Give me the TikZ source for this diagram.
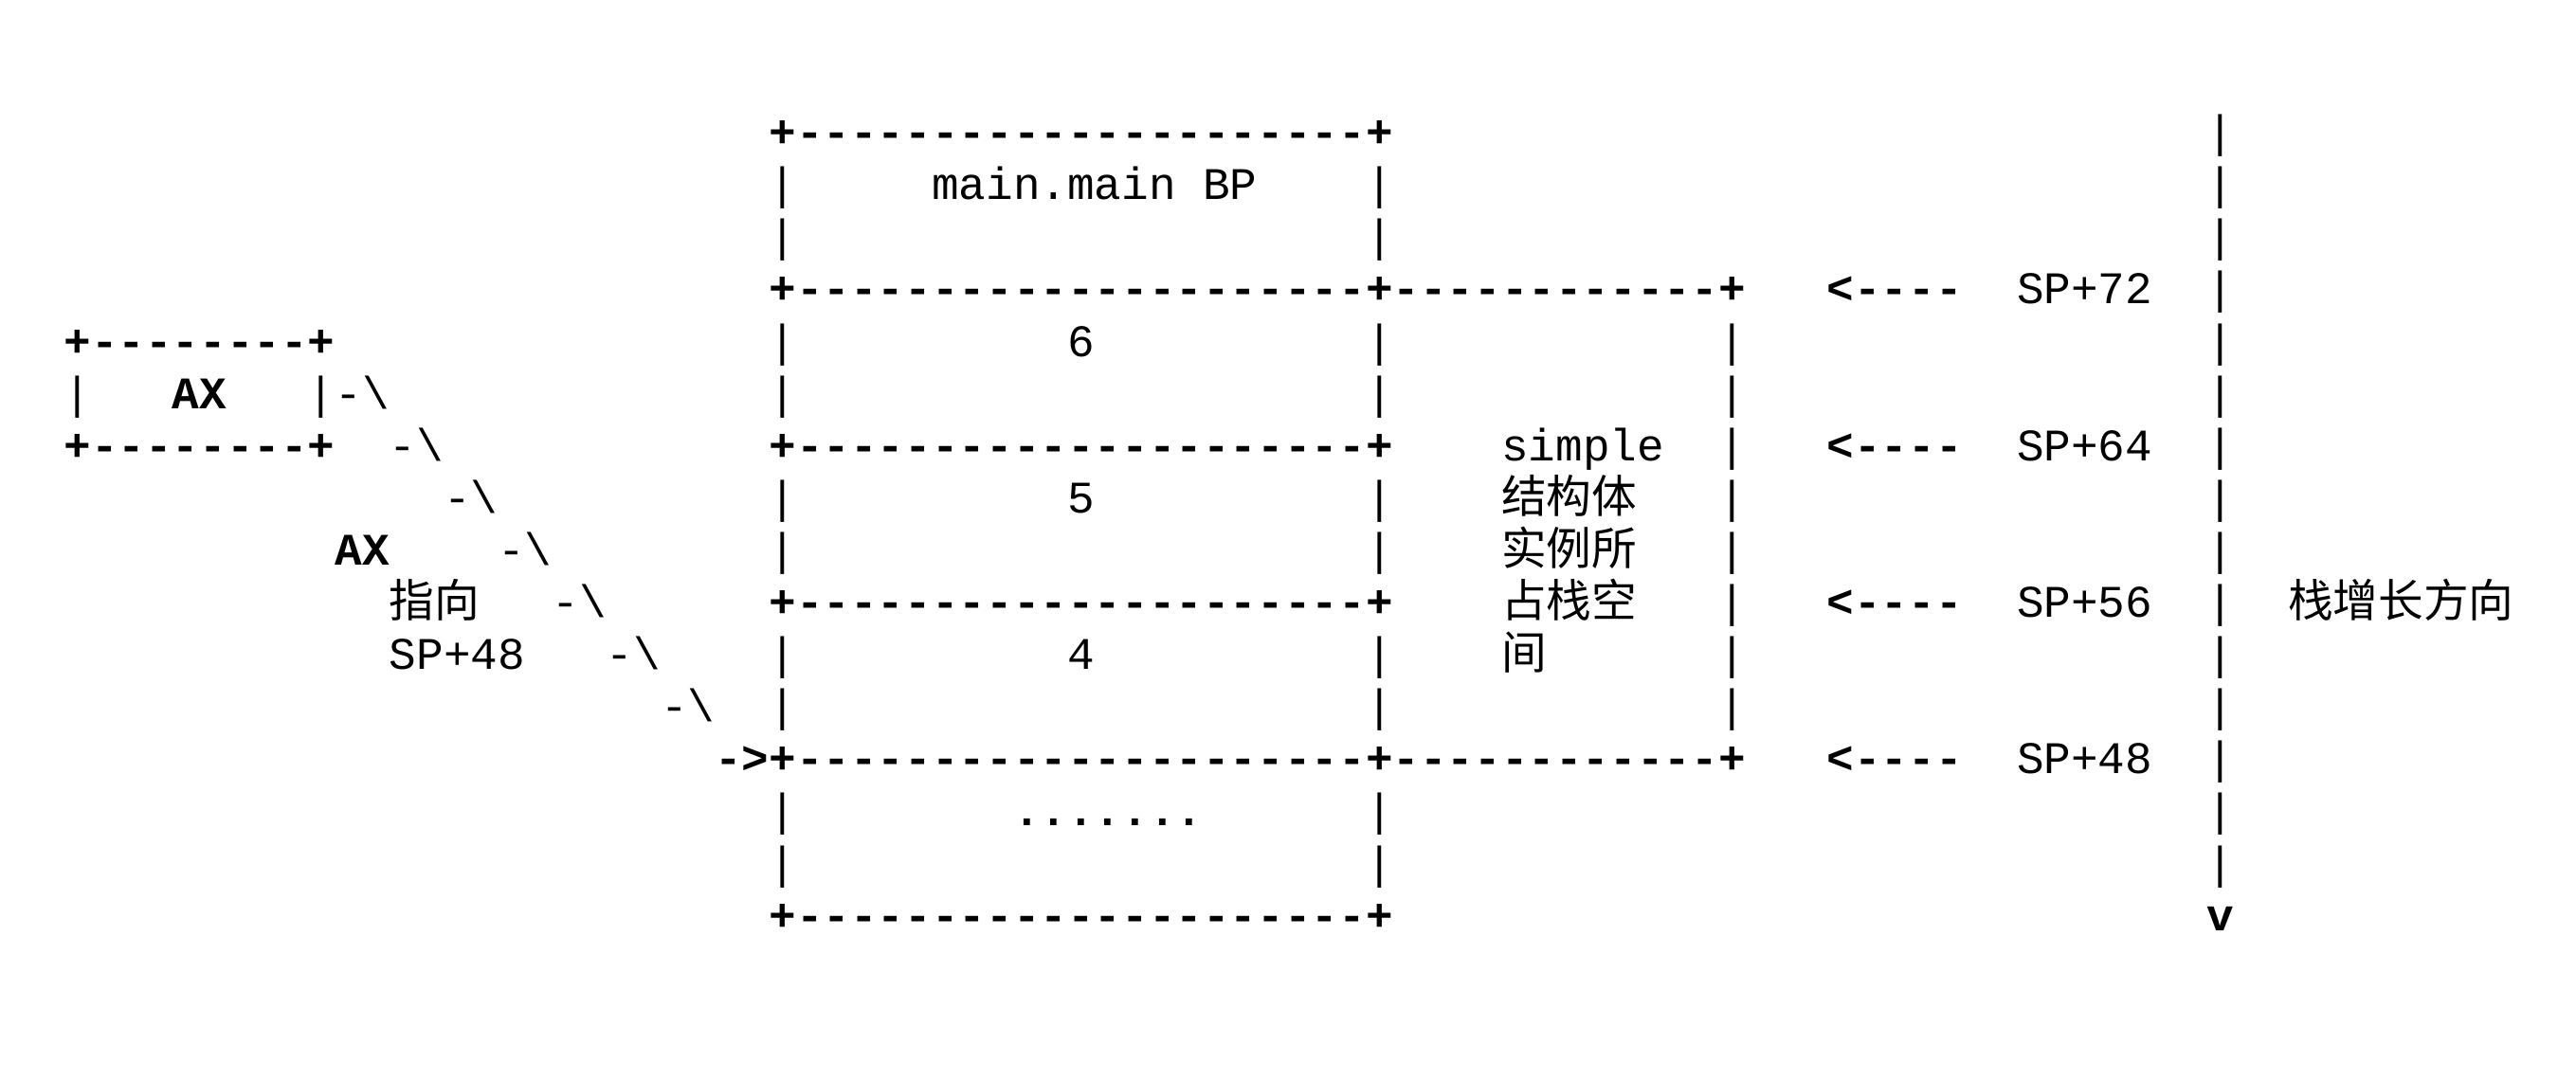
\documentclass[tikz,border=0pt]{standalone}
\usepackage{fontspec}
\setmonofont{Liberation Mono}
\newfontfamily\cjkf{Noto Sans CJK SC}
\newcommand\bs{\textbackslash}
\begin{document}
\begin{tikzpicture}[
  every node/.style={inner sep=0pt, outer sep=0pt, anchor=base west},
  txt/.style={font=\fontsize{13.57pt}{16pt}\ttfamily},
  btxt/.style={font=\fontsize{13.57pt}{16pt}\ttfamily\bfseries},
  brd/.style={font=\fontsize{13.57pt}{16pt}\ttfamily\bfseries},
  cjk/.style={font=\fontsize{13.57pt}{16pt}\cjkf},
]
\useasboundingbox[fill=white] (0,0) rectangle (27.18cm,-11.4cm);
\begin{scope}[x=0.2862cm, y=-0.551cm, shift={(0.674cm,-1.556cm)}]
% row 0
\node[brd] (r0box) at (26,0) {+---------------------+};
\node[txt] (r0bar) at (79,0) {|};
% row 1
\node[txt] (r1l) at (26,1) {|};
\node[txt] (bp) at (32,1) {main.main BP};
\node[txt] (r1r) at (48,1) {|};
\node[txt] (r1bar) at (79,1) {|};
% row 2
\node[txt] (r2l) at (26,2) {|};
\node[txt] (r2r) at (48,2) {|};
\node[txt] (r2bar) at (79,2) {|};
% row 3
\node[brd] (r3box) at (26,3) {+---------------------+------------+};
\node[btxt] (a72) at (65,3) {<----};
\node[txt] (sp72) at (72,3) {SP+72};
\node[txt] (r3bar) at (79,3) {|};
% row 4
\node[brd] (axtop) at (0,4) {+--------+};
\node[txt] (r4l) at (26,4) {|};
\node[txt] (v6) at (37,4) {6};
\node[txt] (r4r) at (48,4) {|};
\node[txt] (r4s) at (61,4) {|};
\node[txt] (r4bar) at (79,4) {|};
% row 5
\node[txt] (axl) at (0,5) {|};
\node[btxt] (ax) at (4,5) {AX};
\node[txt] (axr) at (9,5) {|};
\node[txt] (d5) at (10,5) {-\bs};
\node[txt] (r5l) at (26,5) {|};
\node[txt] (r5r) at (48,5) {|};
\node[txt] (r5s) at (61,5) {|};
\node[txt] (r5bar) at (79,5) {|};
% row 6
\node[brd] (axbot) at (0,6) {+--------+};
\node[txt] (d6) at (12,6) {-\bs};
\node[brd] (r6box) at (26,6) {+---------------------+};
\node[txt] (simple) at (53,6) {simple};
\node[txt] (r6s) at (61,6) {|};
\node[btxt] (a64) at (65,6) {<----};
\node[txt] (sp64) at (72,6) {SP+64};
\node[txt] (r6bar) at (79,6) {|};
% row 7
\node[txt] (d7) at (14,7) {-\bs};
\node[txt] (r7l) at (26,7) {|};
\node[txt] (v5) at (37,7) {5};
\node[txt] (r7r) at (48,7) {|};
\node[cjk] (c1) at (53,7) {结构体};
\node[txt] (r7s) at (61,7) {|};
\node[txt] (r7bar) at (79,7) {|};
% row 8
\node[btxt] (axlbl) at (10,8) {AX};
\node[txt] (d8) at (16,8) {-\bs};
\node[txt] (r8l) at (26,8) {|};
\node[txt] (r8r) at (48,8) {|};
\node[cjk] (c2) at (53,8) {实例所};
\node[txt] (r8s) at (61,8) {|};
\node[txt] (r8bar) at (79,8) {|};
% row 9
\node[cjk] (zx) at (12,9) {指向};
\node[txt] (d9) at (18,9) {-\bs};
\node[brd] (r9box) at (26,9) {+---------------------+};
\node[cjk] (c3) at (53,9) {占栈空};
\node[txt] (r9s) at (61,9) {|};
\node[btxt] (a56) at (65,9) {<----};
\node[txt] (sp56) at (72,9) {SP+56};
\node[txt] (r9bar) at (79,9) {|};
\node[cjk] (grow) at (82,9) {栈增长方向};
% row 10
\node[txt] (sp48l) at (12,10) {SP+48};
\node[txt] (d10) at (20,10) {-\bs};
\node[txt] (r10l) at (26,10) {|};
\node[txt] (v4) at (37,10) {4};
\node[txt] (r10r) at (48,10) {|};
\node[cjk] (c4) at (53,10) {间};
\node[txt] (r10s) at (61,10) {|};
\node[txt] (r10bar) at (79,10) {|};
% row 11
\node[txt] (d11) at (22,11) {-\bs};
\node[txt] (r11l) at (26,11) {|};
\node[txt] (r11r) at (48,11) {|};
\node[txt] (r11s) at (61,11) {|};
\node[txt] (r11bar) at (79,11) {|};
% row 12
\node[btxt] (arr) at (24,12) {->};
\node[brd] (r12box) at (26,12) {+---------------------+------------+};
\node[btxt] (a48) at (65,12) {<----};
\node[txt] (sp48) at (72,12) {SP+48};
\node[txt] (r12bar) at (79,12) {|};
% row 13
\node[txt] (r13l) at (26,13) {|};
\node[btxt] (dots) at (35,13) {.......};
\node[txt] (r13r) at (48,13) {|};
\node[txt] (r13bar) at (79,13) {|};
% row 14
\node[txt] (r14l) at (26,14) {|};
\node[txt] (r14r) at (48,14) {|};
\node[txt] (r14bar) at (79,14) {|};
% row 15
\node[brd] (r15box) at (26,15) {+---------------------+};
\node[btxt] (vdown) at (79,15) {v};
\end{scope}
\end{tikzpicture}
\end{document}
